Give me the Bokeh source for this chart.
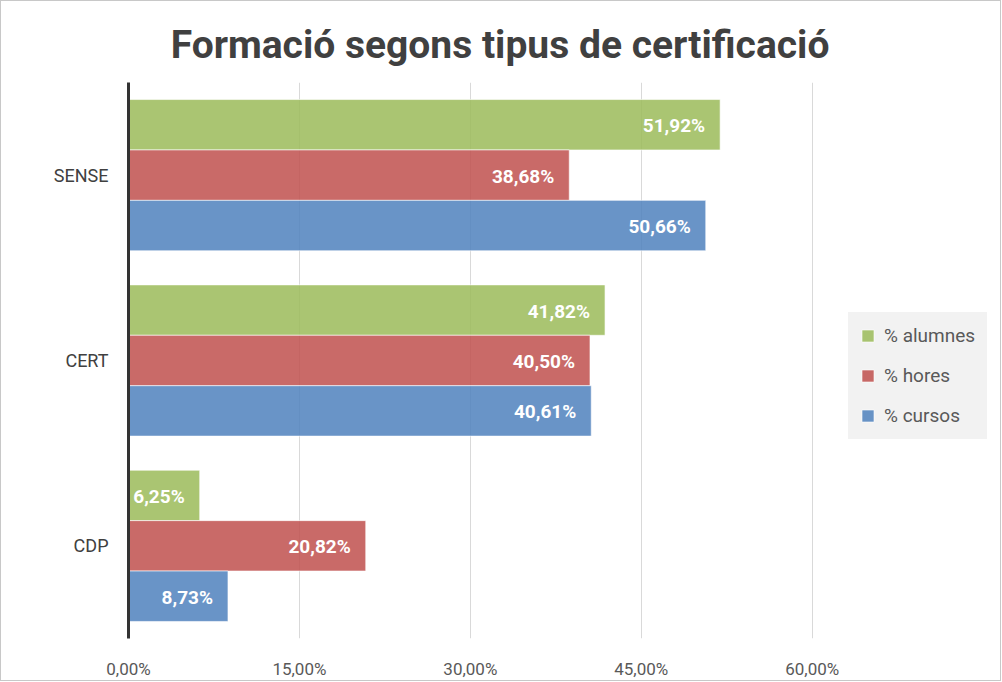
from bokeh.plotting import figure
from bokeh.layouts import column
from bokeh.models import (FactorRange, Range1d, FixedTicker, Legend, LegendItem,
                          ColumnDataSource, Label)
from bokeh.transform import dodge
from bokeh.core.properties import value
from bokeh.embed import file_html
from bokeh.resources import INLINE

# ---- data ----
categories = ["CDP", "CERT", "SENSE"]
alumnes = [6.25, 41.82, 51.92]
hores = [20.82, 40.50, 38.68]
cursos = [8.73, 40.61, 50.66]
series_names = ["% alumnes", "% hores", "% cursos"]
tick_values = [0, 15, 30, 45, 60]
tick_labels = ["0,00%", "15,00%", "30,00%", "45,00%", "60,00%"]
title_text = "Formació segons tipus de certificació"

FONT = "Roboto"
BORDER = "1px solid #C8C8C8"
colors = ["#9BBB59", "#C0504D", "#4F81BD"]
offsets = [0.272, 0.0, -0.272]
bar_h = 0.272
x_max = 76

# ---- title strip ----
t = figure(width=1001, height=82, x_range=Range1d(0, 1), y_range=Range1d(0, 1),
           output_backend="svg", toolbar_location=None, min_border=0,
           title=None, x_axis_location=None, y_axis_location=None)
t.grid.visible = False
t.outline_line_color = None
t.styles = {"border": BORDER, "border-bottom": "none", "box-sizing": "border-box"}
t.add_layout(Label(x=0.429, y=0.465, text=title_text, text_align="center",
                   text_baseline="alphabetic", text_font=FONT,
                   text_font_style="bold", text_font_size="39px",
                   text_color="#404040"))

# ---- main chart ----
p = figure(width=1001, height=599,
           y_range=FactorRange(factors=categories, range_padding=0),
           x_range=Range1d(0, x_max),
           output_backend="svg", toolbar_location=None,
           min_border_left=127, min_border_right=8,
           min_border_top=0, min_border_bottom=0,
           title=None)
p.styles = {"border": BORDER, "border-top": "none", "box-sizing": "border-box"}
p.outline_line_color = None
p.background_fill_color = "white"

items = []
for name, vals, col, off in zip(series_names, [alumnes, hores, cursos], colors, offsets):
    src = ColumnDataSource(dict(cat=categories, val=vals,
                                lab=[("%.2f" % v).replace(".", ",") + "%" for v in vals]))
    r = p.hbar(y=dodge("cat", off, range=p.y_range), right="val", left=0, height=bar_h,
               source=src, fill_color=col, fill_alpha=0.85,
               line_color="white", line_alpha=0.6, line_width=1)
    p.text(x="val", y=dodge("cat", off, range=p.y_range), text="lab", source=src,
           text_align="right", text_baseline="middle", x_offset=-15, y_offset=1,
           text_color="white", text_font=value(FONT), text_font_style="bold",
           text_font_size="19px")
    items.append(LegendItem(label=name, renderers=[r]))

legend = Legend(items=items, location=(720, 199), orientation="vertical",
                background_fill_color="#F2F2F2", background_fill_alpha=1,
                border_line_color="#F2F2F2", border_line_width=1,
                padding=11, spacing=17,
                glyph_width=15, glyph_height=15,
                label_standoff=9, label_text_font=FONT,
                label_text_font_size="19px", label_text_color="#595959")
p.add_layout(legend, "center")

# axes
xa = p.xaxis[0]
xa.ticker = FixedTicker(ticks=tick_values)
xa.major_label_overrides = {v: l for v, l in zip(tick_values, tick_labels)}
xa.axis_line_color = None
xa.major_tick_line_color = None
xa.minor_tick_line_color = None
xa.major_label_text_font = FONT
xa.major_label_text_font_size = "17px"
xa.major_label_text_color = "#595959"
xa.major_label_standoff = 14

ya = p.yaxis[0]
ya.axis_line_color = "#333333"
ya.axis_line_width = 3
ya.major_tick_line_color = None
ya.minor_tick_line_color = None
ya.major_label_text_font = FONT
ya.major_label_text_font_size = "18px"
ya.major_label_text_color = "#404040"
ya.major_label_standoff = 14

p.xgrid.grid_line_color = "#D9D9D9"
p.xgrid.ticker = FixedTicker(ticks=tick_values)
p.ygrid.grid_line_color = None

layout = column(t, p, spacing=0)
open("out.html", "w").write(file_html(layout, INLINE))
